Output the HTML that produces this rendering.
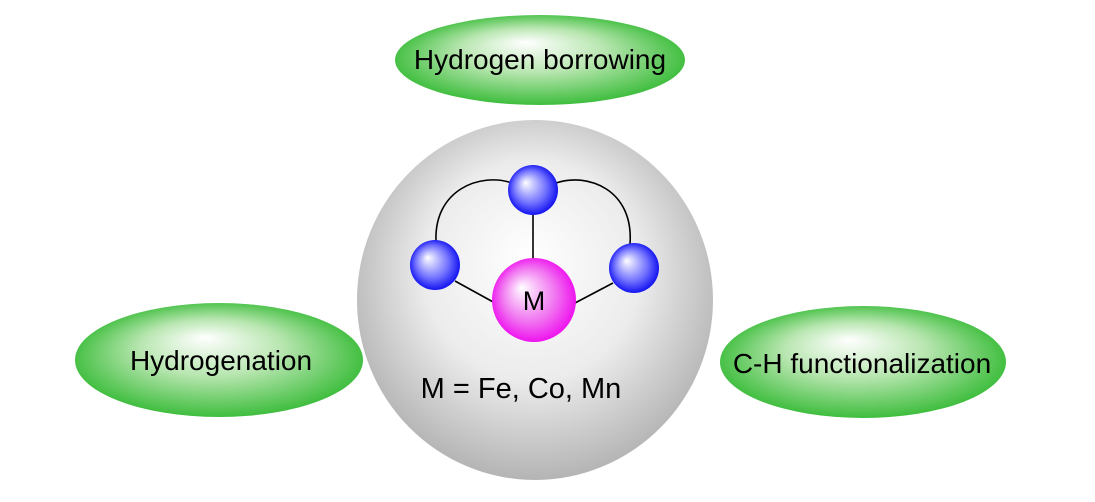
<!DOCTYPE html>
<html><head><meta charset="utf-8"><style>
html,body{margin:0;padding:0;background:#fff;width:1095px;height:502px;overflow:hidden}
</style></head><body>
<svg width="1095" height="502" viewBox="0 0 1095 502" xmlns="http://www.w3.org/2000/svg">
<defs>
<radialGradient id="gray" cx="0.5" cy="0.45" r="0.55" fx="0.48" fy="0.38">
<stop offset="0" stop-color="#ffffff"/><stop offset="0.55" stop-color="#ececec"/><stop offset="1" stop-color="#b4b4b4"/>
</radialGradient>
<radialGradient id="green" cx="0.5" cy="0.5" r="0.55" fx="0.45" fy="0.3">
<stop offset="0" stop-color="#ffffff"/><stop offset="0.45" stop-color="#b8e6b0"/><stop offset="1" stop-color="#2eb82e"/>
</radialGradient>
<radialGradient id="blue" cx="0.5" cy="0.5" r="0.55" fx="0.35" fy="0.35">
<stop offset="0" stop-color="#ffffff"/><stop offset="0.6" stop-color="#7070ff"/><stop offset="1" stop-color="#0000ee"/>
</radialGradient>
<radialGradient id="mag" cx="0.5" cy="0.5" r="0.55" fx="0.35" fy="0.35">
<stop offset="0" stop-color="#ffffff"/><stop offset="0.6" stop-color="#f070f0"/><stop offset="1" stop-color="#ee00ee"/>
</radialGradient>
</defs>
<ellipse cx="535" cy="300" rx="178" ry="180" fill="url(#gray)"/>
<ellipse cx="540" cy="60" rx="145" ry="45" fill="url(#green)"/>
<ellipse cx="219" cy="360" rx="144" ry="57" fill="url(#green)"/>
<ellipse cx="863" cy="362" rx="143" ry="56" fill="url(#green)"/>
<g stroke="#000" stroke-width="1.6" fill="none">
<path d="M436,241 C434,190 480,172 512,183"/>
<path d="M630,244 C634,190 588,172 556,183"/>
<line x1="533" y1="212" x2="533" y2="262"/>
<line x1="455" y1="281" x2="495" y2="303"/>
<line x1="613" y1="283" x2="575" y2="303"/>
</g>
<circle cx="533" cy="190" r="25" fill="url(#blue)"/>
<circle cx="435" cy="265" r="25" fill="url(#blue)"/>
<circle cx="634" cy="268" r="25" fill="url(#blue)"/>
<circle cx="534" cy="300" r="42" fill="url(#mag)"/>
<g font-family="Liberation Sans, sans-serif" font-size="28" fill="#000" text-anchor="middle">
<text x="534" y="310" font-size="27">M</text>
<text x="521" y="398" font-size="29">M = Fe, Co, Mn</text>
<text x="540" y="69">Hydrogen borrowing</text>
<text x="221" y="370">Hydrogenation</text>
<text x="862" y="373">C-H functionalization</text>
</g>
</svg>
</body></html>
